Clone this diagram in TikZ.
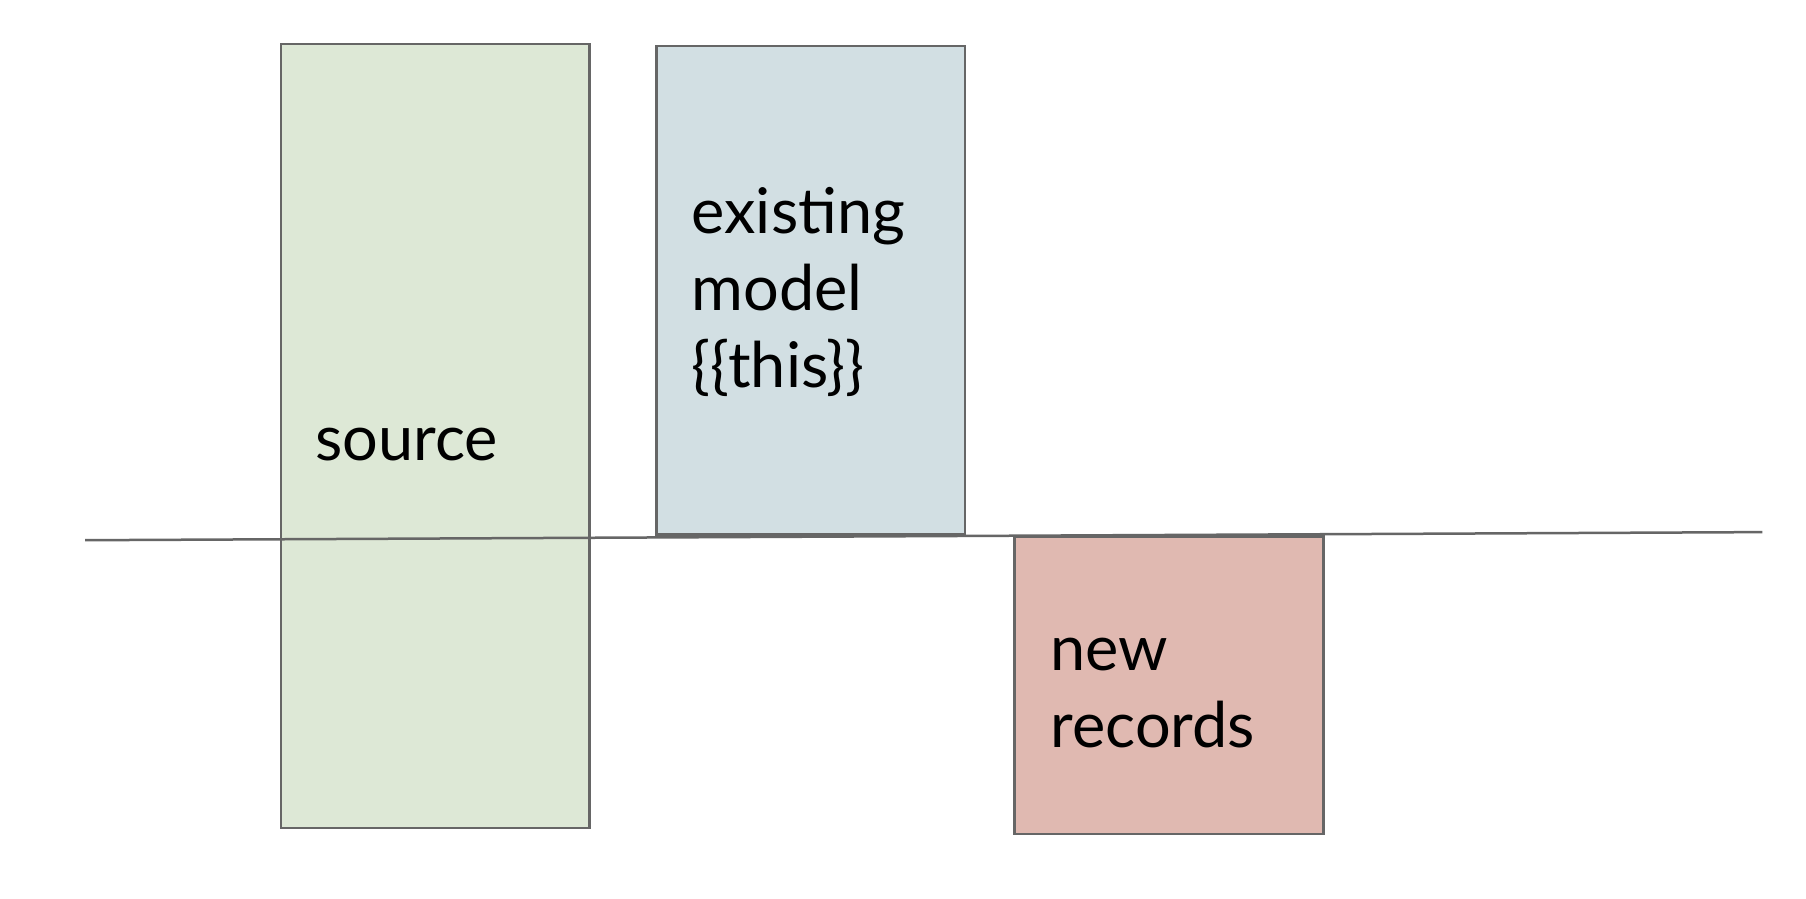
\documentclass[tikz,border=0pt]{standalone}
\usepackage{fontspec}
\setmainfont{Lato}
\definecolor{edge}{HTML}{666666}
\definecolor{greenfill}{HTML}{DDE8D6}
\definecolor{bluefill}{HTML}{D2DFE3}
\definecolor{redfill}{HTML}{E0B9B1}
\begin{document}
\begin{tikzpicture}[x=1pt,y=-1pt,
  block/.style={draw=edge,line width=2.5pt,inner sep=0pt,outer sep=0pt},
  label/.style={anchor=base west,inner sep=0pt,align=left,font=\fontsize{63}{77}\selectfont,text=black}]
\useasboundingbox (0,0) rectangle (1806,898);
\fill[white] (0,0) rectangle (1806,898);
\draw[block,fill=greenfill] (281,43.8) rectangle (589.7,828) node[pos=0.5] (src) {};
\draw[block,fill=bluefill] (656.5,46) rectangle (965.2,534.4) node[pos=0.5] (exist) {};
\draw[block,fill=redfill] (1014.7,536.7) rectangle (1323.4,833.9) node[pos=0.5] (newrec) {};
\coordinate (lstart) at (85.2,540.2);
\coordinate (lend) at (1762.3,532.1);
\draw[draw=edge,line width=2.5pt] (lstart) -- (lend);
\node[label] (srctext) at (315,460) {source};
\node[label] (existtext) at (691.5,387.5) {existing\\model\\\{\{this\}\}};
\node[label] (newtext) at (1050.5,747) {new\\records};
\end{tikzpicture}
\end{document}
